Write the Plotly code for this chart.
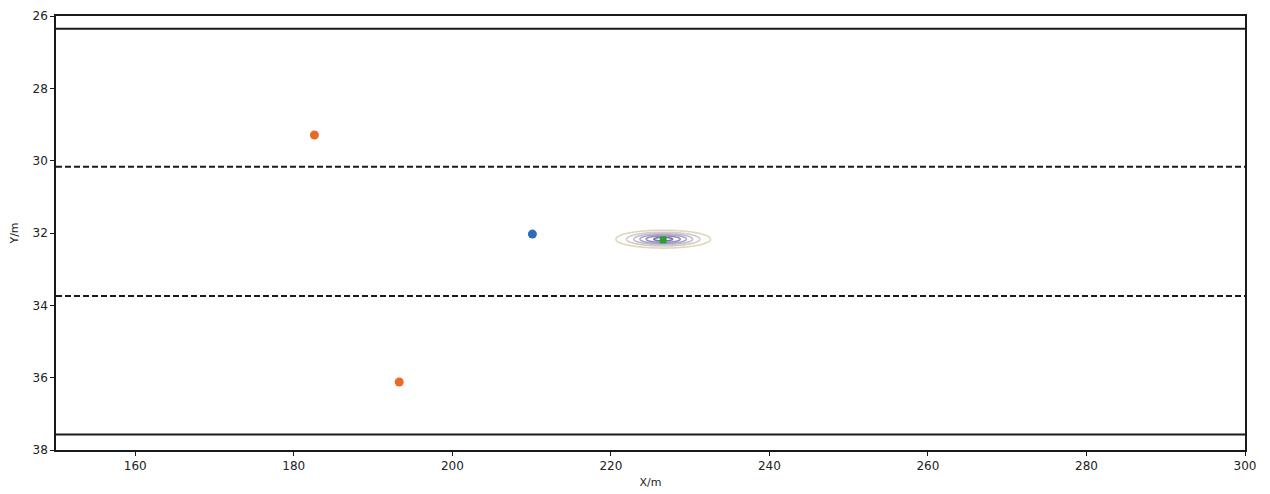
import numpy as np
import plotly.graph_objects as go

# Boundary lines (y in metres)
solid_lines_y = [26.35, 37.57]
dashed_lines_y = [30.17, 33.74]
x_range = [150, 300]

# Points
orange_x = [182.6, 193.3]
orange_y = [29.29, 36.12]
blue_x = [210.1]
blue_y = [32.03]
green_x = [226.6]
green_y = [32.19]

# Contour (estimate density around the green point)
contour_center = (226.6, 32.17)
contour_sigma = (2.9, 0.12)

x_ticks = [160, 180, 200, 220, 240, 260, 280, 300]
y_ticks = [26, 28, 30, 32, 34, 36, 38]

fig = go.Figure()

gx = np.linspace(212, 241, 240)
gy = np.linspace(31.6, 32.8, 140)
GX, GY = np.meshgrid(gx, gy)
Z = np.exp(-(((GX - contour_center[0]) / contour_sigma[0]) ** 2 + ((GY - contour_center[1]) / contour_sigma[1]) ** 2) / 2)
fig.add_trace(go.Contour(
    x=gx, y=gy, z=Z,
    contours=dict(coloring="lines", start=0.12, end=0.92, size=0.16),
    colorscale=[[0, "#ddd8b8"], [0.35, "#c8c2d6"], [0.7, "#a49cc4"], [1, "#7c74aa"]],
    line=dict(width=1.6), showscale=False, hoverinfo="skip"))

for yv in solid_lines_y:
    fig.add_trace(go.Scatter(x=x_range, y=[yv, yv], mode="lines",
                             line=dict(color="#1a1a1a", width=2), showlegend=False))
for yv in dashed_lines_y:
    fig.add_trace(go.Scatter(x=x_range, y=[yv, yv], mode="lines",
                             line=dict(color="#1a1a1a", width=2, dash="6px,3px"), showlegend=False))

fig.add_trace(go.Scatter(x=orange_x, y=orange_y, mode="markers",
                         marker=dict(color="#ea6a2a", size=9), showlegend=False))
fig.add_trace(go.Scatter(x=blue_x, y=blue_y, mode="markers",
                         marker=dict(color="#2f6db5", size=9), showlegend=False))
fig.add_trace(go.Scatter(x=green_x, y=green_y, mode="markers",
                         marker=dict(color="#2ca02c", size=7, symbol="square"), showlegend=False))

axis_common = dict(showgrid=False, zeroline=False, showline=True, linecolor="#1a1a1a",
                   linewidth=1.5, mirror=True, ticks="outside", ticklen=4, tickwidth=1,
                   tickcolor="#1a1a1a", tickfont=dict(family="DejaVu Sans", size=12, color="#222"))

fig.update_xaxes(range=x_range, tickvals=x_ticks, title=dict(text="X/m", standoff=6,
                 font=dict(family="DejaVu Sans", size=11, color="#222")), **axis_common)
fig.update_yaxes(range=[38, 26], tickvals=y_ticks, title=dict(text="Y/m", standoff=12,
                 font=dict(family="DejaVu Sans", size=11, color="#222")), **axis_common)

fig.update_layout(width=1270, height=494, margin=dict(l=48, r=33, t=8, b=52, autoexpand=False),
                  plot_bgcolor="white", paper_bgcolor="white", showlegend=False)

fig.write_html("out.html")
